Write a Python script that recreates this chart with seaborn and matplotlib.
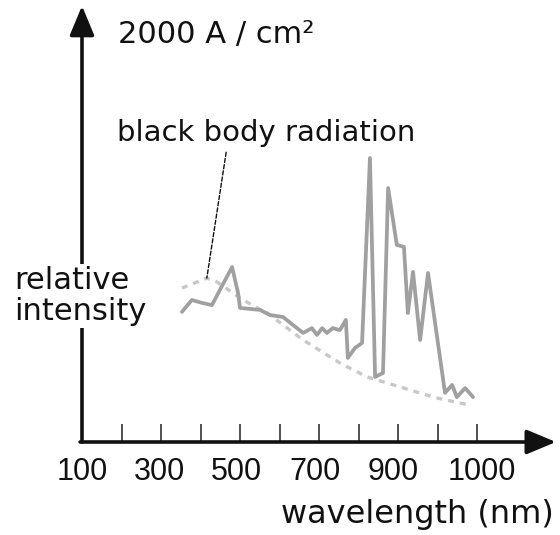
import matplotlib
matplotlib.use("Agg")
import matplotlib.pyplot as plt
import seaborn as sns
import pandas as pd

# xenon lamp spectrum (gray solid line)
spec_nm = [353, 378, 406, 429, 449, 480, 495, 500, 551, 576, 609, 634, 660, 682, 695,
           708, 720, 735, 753, 768, 773, 791, 809, 829, 842, 862, 875, 897, 915, 925,
           938, 956, 976, 1019, 1037, 1049, 1070, 1090]
spec_int = [45.8, 50.0, 48.9, 48.2, 53.5, 61.6, 52.5, 47.2, 46.5, 44.7, 44.0, 41.2, 38.4,
            40.1, 37.7, 40.1, 38.4, 40.1, 39.4, 43.0, 29.6, 33.1, 34.9, 100.0, 22.9, 24.3,
            89.4, 69.4, 68.7, 45.4, 59.9, 35.9, 59.5, 17.3, 20.1, 15.8, 19.0, 15.8]

# black body radiation (light dashed curve)
bb_nm = [353, 416, 442, 508, 576, 660, 753, 822, 905, 989, 1057, 1082]
bb_int = [54.2, 57.7, 56.3, 50.0, 44.7, 35.9, 27.8, 22.9, 19.4, 15.8, 13.7, 13.0]

tick_marks = [200, 300, 400, 500, 600, 700, 800, 900, 1000, 1100]
tick_labels = ['100', '300', '500', '700', '900', '1000']
label_pos = [100, 297, 492, 690, 887, 1112]

sns.set_theme(style='white')
plt.rcParams['font.family'] = ['Liberation Sans', 'DejaVu Sans']
WORDS = ['DejaVu Sans']

spec = pd.DataFrame({'nm': spec_nm, 'intensity': spec_int})
bb = pd.DataFrame({'nm': bb_nm, 'intensity': bb_int})

fig = plt.figure(figsize=(5.6, 5.35), dpi=100)
ax = fig.add_axes([82 / 560, 93 / 535, 474 / 560, 434 / 535])

sns.lineplot(data=bb, x='nm', y='intensity', ax=ax, color='#c8c8c8', lw=2.4,
             linestyle=(0, (1.8, 1.8)), sort=False)
sns.lineplot(data=spec, x='nm', y='intensity', ax=ax, color='#a0a0a0', lw=2.7,
             sort=False)

ax.set_xlim(100, 1300)
ax.set_ylim(0, 152.8)
for s in ax.spines.values():
    s.set_visible(False)
ax.set_xlabel('')
ax.set_ylabel('')
ax.set_yticks([])

ax.set_xticks(tick_marks, minor=True)
ax.set_xticks(label_pos, tick_labels)
ax.tick_params(axis='x', which='minor', direction='in', length=13, width=1.1,
               color='#222222', bottom=True)
ax.tick_params(axis='x', which='major', length=0, pad=11, labelsize=22,
               labelcolor='#111111')

# axis arrows
arrow = dict(arrowstyle='-|>,head_length=0.6,head_width=0.25', lw=2.6,
             color='#111111', mutation_scale=30, shrinkA=0, shrinkB=0)
ax.annotate('', xy=(1, 0), xytext=(-0.004, 0), xycoords='axes fraction',
            arrowprops=arrow)
ax.annotate('', xy=(0, 1.005), xytext=(0, 0), xycoords='axes fraction',
            arrowprops=arrow)

# leader line to the black body curve
ax.annotate('', xy=(bb_nm[1], bb_int[1]), xytext=(465, 102),
            arrowprops=dict(arrowstyle='-', ls=(0, (3, 1.5)), lw=1.0,
                            color='#111111', shrinkA=0, shrinkB=0))

fig.text(118 / 560, 1 - 35 / 535, '2000 A / cm²', fontsize=22, va='center',
         color='#111111', family=WORDS)
fig.text(117 / 560, 1 - 133 / 535, 'black body radiation', fontsize=21,
         va='center', color='#111111', family=WORDS)
fig.text(14 / 560, 1 - 296 / 535, 'relative\nintensity', fontsize=22,
         va='center', ha='left', linespacing=1.1, color='#111111',
         family=WORDS, bbox=dict(facecolor='white', edgecolor='none', pad=1))
fig.text(554 / 560, 1 - 515 / 535, 'wavelength (nm)', fontsize=23,
         va='center', ha='right', color='#111111', family=WORDS)

fig.savefig('out.png', dpi=100)
